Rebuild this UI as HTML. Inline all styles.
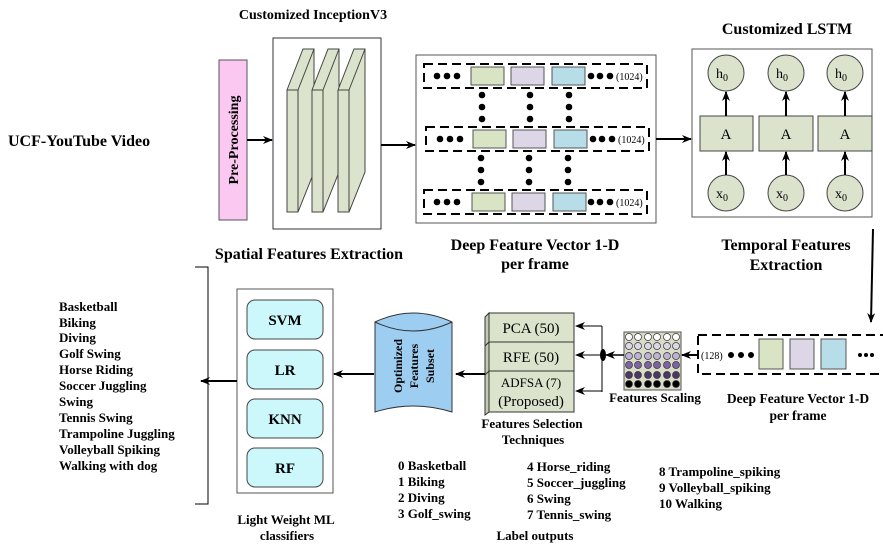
<!DOCTYPE html>
<html><head><meta charset="utf-8"><style>
html,body{margin:0;padding:0;background:#fff;}
svg{display:block;font-family:"Liberation Serif",serif;}
</style></head><body>
<svg width="883" height="550" viewBox="0 0 883 550" xmlns="http://www.w3.org/2000/svg">
<defs>
<marker id="ar" markerWidth="10" markerHeight="8" refX="9" refY="4" orient="auto" markerUnits="userSpaceOnUse"><path d="M0,0 L10,4 L0,8 L3,4 z" fill="#000"/></marker>
</defs>
<g fill="#000" font-weight="bold">
<text x="8" y="146" font-size="16">UCF-YouTube Video</text>
<text x="313" y="19" font-size="14" text-anchor="middle">Customized InceptionV3</text>
<text x="309" y="259" font-size="16" text-anchor="middle">Spatial Features Extraction</text>
<text x="535" y="250" font-size="16" text-anchor="middle">Deep Feature Vector 1-D</text>
<text x="535" y="269" font-size="16" text-anchor="middle">per frame</text>
<text x="787" y="34" font-size="16" text-anchor="middle">Customized LSTM</text>
<text x="786" y="250" font-size="16" text-anchor="middle">Temporal Features</text>
<text x="786" y="270" font-size="16" text-anchor="middle">Extraction</text>
</g>
<!-- preprocessing -->
<rect x="219" y="60" width="28" height="160" fill="#fbc8f2" stroke="#555"/>
<text transform="translate(238,140) rotate(-90)" font-size="14" font-weight="bold" text-anchor="middle">Pre-Processing</text>
<line x1="247" y1="140" x2="272" y2="140" stroke="#000" stroke-width="2" marker-end="url(#ar)"/>
<!-- inception -->
<rect x="273" y="38" width="108" height="191" fill="#fff" stroke="#333"/>
<g fill="#dce3cd" stroke="#444">
<path d="M287,90 L303,49 L314,49 L314,172 L298,212 L287,212 z"/><path d="M287,90 L298,90 L298,212" fill="none"/><path d="M298,90 L314,49" fill="none"/>
<path d="M312,90 L328,49 L339,49 L339,172 L323,212 L312,212 z"/><path d="M312,90 L323,90 L323,212" fill="none"/><path d="M323,90 L339,49" fill="none"/>
<path d="M338,90 L354,49 L365,49 L365,172 L349,212 L338,212 z"/><path d="M338,90 L349,90 L349,212" fill="none"/><path d="M349,90 L365,49" fill="none"/>
</g>
<line x1="381" y1="145" x2="415" y2="145" stroke="#000" stroke-width="2" marker-end="url(#ar)"/>
<!-- feature box -->
<rect x="416" y="55" width="240" height="168" fill="#fff" stroke="#555"/>
<g stroke="#000" stroke-width="2" stroke-dasharray="9,5" fill="none">
<rect x="424" y="64" width="223" height="24"/>
<rect x="426" y="127" width="223" height="24"/>
<rect x="424" y="190" width="223" height="24"/>
</g>
<g stroke="#555">
<rect x="471" y="67" width="33" height="18" fill="#d8e4c3"/><rect x="511" y="67" width="33" height="18" fill="#dcd6e6"/><rect x="552" y="67" width="33" height="18" fill="#b7dde8"/>
<rect x="473" y="130" width="33" height="18" fill="#d8e4c3"/><rect x="513" y="130" width="33" height="18" fill="#dcd6e6"/><rect x="554" y="130" width="33" height="18" fill="#b7dde8"/>
<rect x="472" y="193" width="33" height="18" fill="#d8e4c3"/><rect x="512" y="193" width="33" height="18" fill="#dcd6e6"/><rect x="553" y="193" width="33" height="18" fill="#b7dde8"/>
</g>
<g fill="#000">
<circle cx="437" cy="76" r="3.3"/><circle cx="447" cy="76" r="3.3"/><circle cx="457" cy="76" r="3.3"/>
<circle cx="591" cy="76" r="3.3"/><circle cx="600" cy="76" r="3.3"/><circle cx="610" cy="76" r="3.3"/>
<circle cx="440" cy="139" r="3.3"/><circle cx="450" cy="139" r="3.3"/><circle cx="460" cy="139" r="3.3"/>
<circle cx="593" cy="139" r="3.3"/><circle cx="602" cy="139" r="3.3"/><circle cx="612" cy="139" r="3.3"/>
<circle cx="437" cy="202" r="3.3"/><circle cx="447" cy="202" r="3.3"/><circle cx="457" cy="202" r="3.3"/>
<circle cx="591" cy="202" r="3.3"/><circle cx="600" cy="202" r="3.3"/><circle cx="610" cy="202" r="3.3"/>
<circle cx="482" cy="95" r="3.3"/><circle cx="482" cy="107" r="3.3"/><circle cx="482" cy="119" r="3.3"/>
<circle cx="530" cy="95" r="3.3"/><circle cx="530" cy="107" r="3.3"/><circle cx="530" cy="119" r="3.3"/>
<circle cx="569" cy="95" r="3.3"/><circle cx="569" cy="107" r="3.3"/><circle cx="569" cy="119" r="3.3"/>
<circle cx="481" cy="158" r="3.3"/><circle cx="481" cy="170" r="3.3"/><circle cx="481" cy="182" r="3.3"/>
<circle cx="529" cy="158" r="3.3"/><circle cx="529" cy="170" r="3.3"/><circle cx="529" cy="182" r="3.3"/>
<circle cx="568" cy="158" r="3.3"/><circle cx="568" cy="170" r="3.3"/><circle cx="568" cy="182" r="3.3"/>
</g>
<g font-size="10">
<text x="616" y="80">(1024)</text><text x="618" y="143">(1024)</text><text x="616" y="206">(1024)</text>
</g>
<line x1="656" y1="139" x2="691" y2="139" stroke="#000" stroke-width="2" marker-end="url(#ar)"/>
<!-- LSTM -->
<rect x="692" y="49" width="180" height="168" fill="#fff" stroke="#555"/>
<g fill="#dce3cd" stroke="#444">
<circle cx="726" cy="73" r="18"/><circle cx="786" cy="73" r="18"/><circle cx="845" cy="73" r="18"/>
<rect x="700" y="116" width="53" height="35"/><rect x="759" y="116" width="54" height="35"/><rect x="818" y="116" width="54" height="35"/>
<circle cx="726" cy="193" r="18"/><circle cx="786" cy="193" r="18"/><circle cx="845" cy="193" r="18"/>
</g>
<g stroke="#000" stroke-width="2" marker-end="url(#ar)">
<line x1="726" y1="116" x2="726" y2="92"/><line x1="786" y1="116" x2="786" y2="92"/><line x1="845" y1="116" x2="845" y2="92"/>
<line x1="726" y1="175" x2="726" y2="152"/><line x1="786" y1="175" x2="786" y2="152"/><line x1="845" y1="175" x2="845" y2="152"/>
</g>
<g font-size="14" text-anchor="middle">
<text x="722" y="78">h<tspan font-size="10" dy="3">0</tspan></text><text x="782" y="78">h<tspan font-size="10" dy="3">0</tspan></text><text x="841" y="78">h<tspan font-size="10" dy="3">0</tspan></text>
<text x="726" y="139" font-size="15">A</text><text x="786" y="139" font-size="15">A</text><text x="845" y="139" font-size="15">A</text>
<text x="722" y="198">x<tspan font-size="10" dy="3">0</tspan></text><text x="782" y="198">x<tspan font-size="10" dy="3">0</tspan></text><text x="841" y="198">x<tspan font-size="10" dy="3">0</tspan></text>
</g>
<line x1="873" y1="229" x2="871" y2="322" stroke="#000" stroke-width="2" marker-end="url(#ar)"/>
<!-- bottom feature vector -->
<rect x="698" y="335" width="190" height="39" fill="none" stroke="#000" stroke-width="2" stroke-dasharray="9,5"/>
<text x="701" y="359" font-size="10">(128)</text>
<g fill="#000"><circle cx="731" cy="355" r="3"/><circle cx="741" cy="355" r="3"/><circle cx="751" cy="355" r="3"/>
<circle cx="860" cy="355" r="2"/><circle cx="866" cy="355" r="2"/><circle cx="872" cy="355" r="2"/></g>
<g stroke="#555"><rect x="759" y="339" width="24" height="30" fill="#d8e4c3"/><rect x="790" y="339" width="24" height="30" fill="#dcd6e6"/><rect x="821" y="339" width="25" height="30" fill="#b7dde8"/></g>
<text x="798" y="403" font-size="13.5" font-weight="bold" text-anchor="middle">Deep Feature Vector 1-D</text>
<text x="798" y="420" font-size="13.5" font-weight="bold" text-anchor="middle">per frame</text>
<line x1="698" y1="355" x2="682" y2="355" stroke="#000" stroke-width="2" marker-end="url(#ar)"/>
<!-- scaling grid -->
<rect x="624" y="332" width="57" height="58" fill="#d8dcc8" stroke="#555"/>
<g stroke="#333" stroke-width="0.7">
<g fill="#fff"><circle cx="629" cy="337" r="3.5"/><circle cx="638" cy="337" r="3.5"/><circle cx="648" cy="337" r="3.5"/><circle cx="657" cy="337" r="3.5"/><circle cx="667" cy="337" r="3.5"/><circle cx="676" cy="337" r="3.5"/></g>
<g fill="#ddd6ea"><circle cx="629" cy="346" r="3.5"/><circle cx="638" cy="346" r="3.5"/><circle cx="648" cy="346" r="3.5"/><circle cx="657" cy="346" r="3.5"/><circle cx="667" cy="346" r="3.5"/><circle cx="676" cy="346" r="3.5"/></g>
<g fill="#bfb2d8"><circle cx="629" cy="356" r="3.5"/><circle cx="638" cy="356" r="3.5"/><circle cx="648" cy="356" r="3.5"/><circle cx="657" cy="356" r="3.5"/><circle cx="667" cy="356" r="3.5"/><circle cx="676" cy="356" r="3.5"/></g>
<g fill="#7d63a6"><circle cx="629" cy="365" r="3.5"/><circle cx="638" cy="365" r="3.5"/><circle cx="648" cy="365" r="3.5"/><circle cx="657" cy="365" r="3.5"/><circle cx="667" cy="365" r="3.5"/><circle cx="676" cy="365" r="3.5"/></g>
<g fill="#4c3866"><circle cx="629" cy="375" r="3.5"/><circle cx="638" cy="375" r="3.5"/><circle cx="648" cy="375" r="3.5"/><circle cx="657" cy="375" r="3.5"/><circle cx="667" cy="375" r="3.5"/><circle cx="676" cy="375" r="3.5"/></g>
<g fill="#000"><circle cx="629" cy="384" r="3.5"/><circle cx="638" cy="384" r="3.5"/><circle cx="648" cy="384" r="3.5"/><circle cx="657" cy="384" r="3.5"/><circle cx="667" cy="384" r="3.5"/><circle cx="676" cy="384" r="3.5"/></g>
</g>
<text x="655" y="402" font-size="13" font-weight="bold" text-anchor="middle">Features Scaling</text>
<line x1="624" y1="355" x2="606" y2="355" stroke="#000" stroke-width="1.5" marker-end="url(#ar)"/>
<ellipse cx="603" cy="355" rx="3" ry="6" fill="#000"/>
<line x1="602" y1="326" x2="602" y2="392" stroke="#000" stroke-width="1"/>
<g stroke="#000" stroke-width="1" marker-end="url(#ar)">
<line x1="602" y1="326" x2="576" y2="326"/><line x1="602" y1="355" x2="576" y2="355"/><line x1="602" y1="391" x2="576" y2="391"/>
</g>
<!-- selection boxes -->
<g fill="#dce3cd" stroke="#333">
<path d="M485,317 L489,313 L489,344 L485,347 z" fill="#c3caad"/><rect x="489" y="313" width="85" height="30"/>
<path d="M485,346 L489,342 L489,372 L485,375 z" fill="#c3caad"/><rect x="489" y="342" width="85" height="29"/>
<path d="M485,375 L489,371 L489,412 L485,415 z" fill="#c3caad"/><rect x="489" y="371" width="85" height="41"/>
</g>
<g font-size="15" text-anchor="middle">
<text x="531" y="333">PCA (50)</text><text x="531" y="362">RFE (50)</text>
<text x="531" y="387" font-size="13">ADFSA (7)</text><text x="531" y="406">(Proposed)</text>
</g>
<text x="532" y="428" font-size="13" font-weight="bold" text-anchor="middle">Features Selection</text>
<text x="533" y="444" font-size="13" font-weight="bold" text-anchor="middle">Techniques</text>
<line x1="485" y1="374" x2="456" y2="374" stroke="#000" stroke-width="2" marker-end="url(#ar)"/>
<!-- cylinder -->
<path d="M375,322 Q413,304 452,322 L452,412 Q413,400 375,412 z" fill="#9dcdf0" stroke="#333"/>
<path d="M375,322 Q413,340 452,322" fill="none" stroke="#333"/>
<g font-size="12" font-weight="bold" text-anchor="middle">
<text transform="translate(402,366) rotate(-90)">Optimized</text>
<text transform="translate(418,366) rotate(-90)">Features</text>
<text transform="translate(434,366) rotate(-90)">Subset</text>
</g>
<line x1="374" y1="374" x2="334" y2="374" stroke="#000" stroke-width="2" marker-end="url(#ar)"/>
<!-- classifiers -->
<rect x="237" y="289" width="96" height="204" fill="#fff" stroke="#555"/>
<g fill="#ccf7fb" stroke="#444">
<rect x="247" y="300" width="76" height="39" rx="8"/><rect x="247" y="350" width="76" height="39" rx="8"/>
<rect x="247" y="399" width="76" height="39" rx="8"/><rect x="247" y="448" width="76" height="39" rx="8"/>
</g>
<g font-size="15" font-weight="bold" text-anchor="middle">
<text x="285" y="325">SVM</text><text x="285" y="375">LR</text><text x="285" y="424">KNN</text><text x="285" y="473">RF</text>
</g>
<text x="286" y="524" font-size="13" font-weight="bold" text-anchor="middle">Light Weight ML</text>
<text x="287" y="540" font-size="13" font-weight="bold" text-anchor="middle">classifiers</text>
<line x1="237" y1="381" x2="201" y2="381" stroke="#000" stroke-width="2" marker-end="url(#ar)"/>
<path d="M195,267 L208,267 L208,504 L195,504" fill="none" stroke="#000"/>
<g font-size="13" font-weight="bold">
<text x="59" y="311">Basketball</text><text x="59" y="327">Biking</text><text x="59" y="342">Diving</text>
<text x="59" y="358">Golf Swing</text><text x="59" y="374">Horse Riding</text><text x="59" y="390">Soccer Juggling</text>
<text x="59" y="406">Swing</text><text x="59" y="422">Tennis Swing</text><text x="59" y="438">Trampoline Juggling</text>
<text x="59" y="454">Volleyball Spiking</text><text x="59" y="470">Walking with dog</text>
<text x="398" y="470">0 Basketball</text><text x="398" y="486">1 Biking</text><text x="398" y="502">2 Diving</text><text x="398" y="518">3 Golf_swing</text>
<text x="527" y="471">4 Horse_riding</text><text x="527" y="487">5 Soccer_juggling</text><text x="527" y="503">6 Swing</text><text x="527" y="519">7 Tennis_swing</text>
<text x="659" y="476">8 Trampoline_spiking</text><text x="659" y="492">9 Volleyball_spiking</text><text x="659" y="508">10 Walking</text>
<text x="535" y="540" text-anchor="middle">Label outputs</text>
</g>
</svg>
</body></html>
